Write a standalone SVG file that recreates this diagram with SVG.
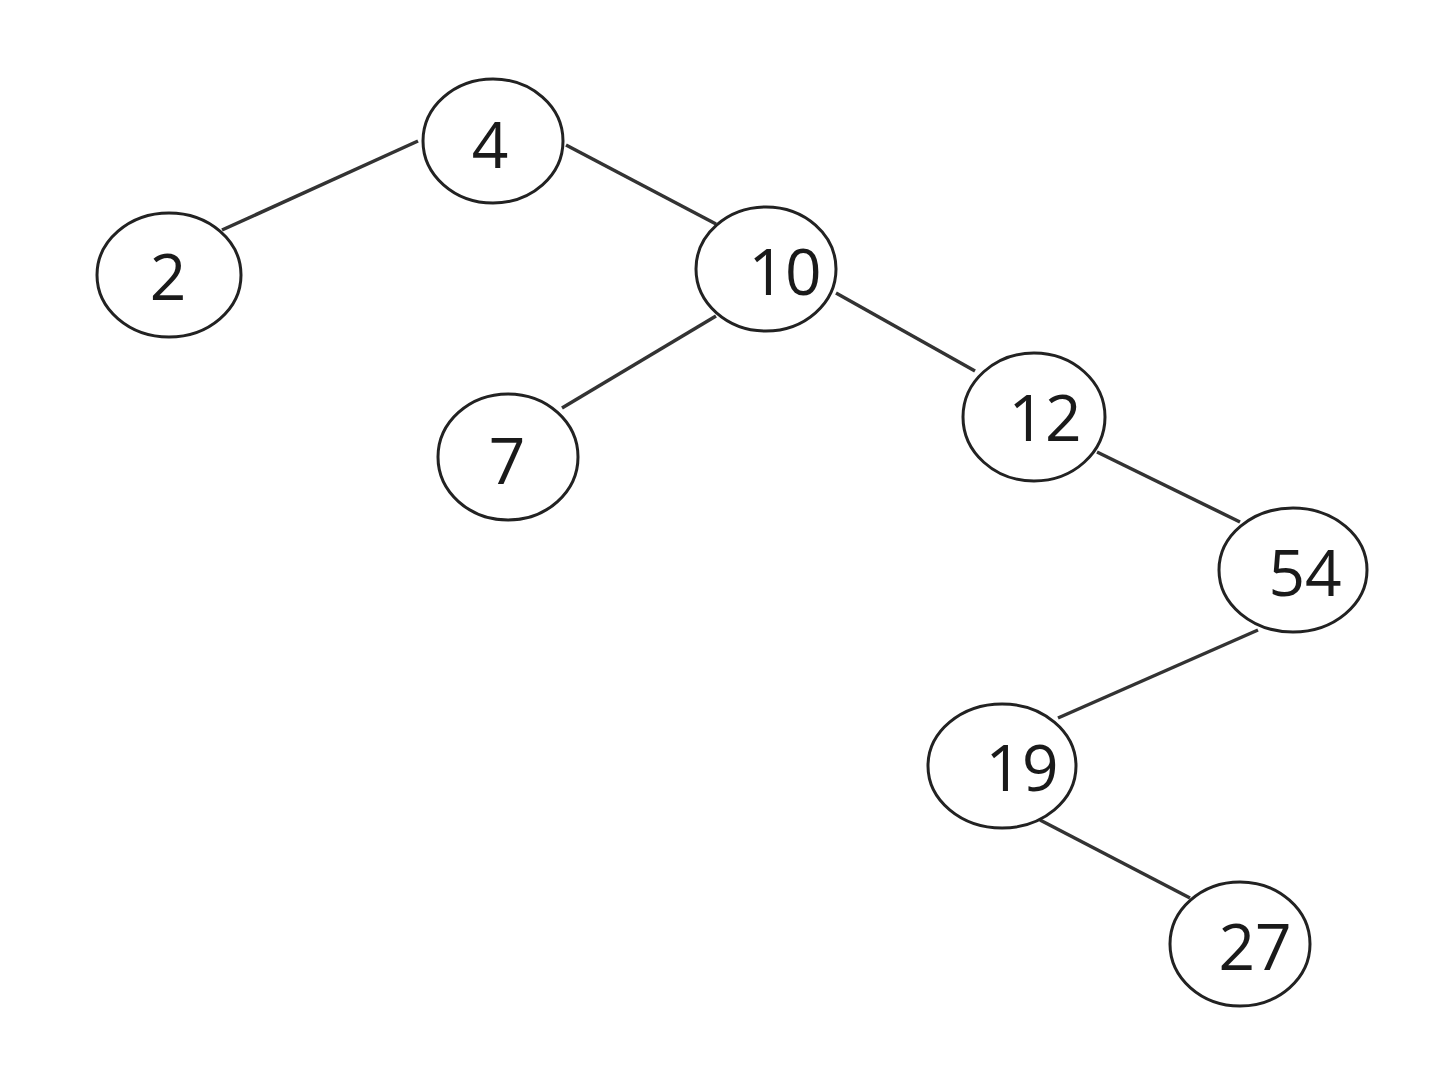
<svg xmlns="http://www.w3.org/2000/svg" width="1440" height="1074" viewBox="0 0 1440 1074">
<style>
.n{fill:#fff;stroke:#222;stroke-width:3}
.e{stroke:#333;stroke-width:3.5;fill:none}
text{font-family:"Open Sans","Liberation Sans",sans-serif;font-size:64px;fill:#1a1a1a;text-anchor:middle}
</style>
<rect width="1440" height="1074" fill="#fff"/>
<g id="edges">
<line class="e" x1="418" y1="141" x2="222" y2="230"/>
<line class="e" x1="566" y1="145" x2="716" y2="224"/>
<line class="e" x1="716" y1="316" x2="562" y2="408"/>
<line class="e" x1="836" y1="293" x2="975" y2="371"/>
<line class="e" x1="1097" y1="452" x2="1240" y2="522"/>
<line class="e" x1="1258" y1="630" x2="1058" y2="718"/>
<line class="e" x1="1040" y1="820" x2="1190" y2="898"/>
</g>
<g id="n4"><ellipse class="n" cx="493" cy="141" rx="70" ry="62"/><text x="490" y="168">4</text></g>
<g id="n2"><ellipse class="n" cx="169" cy="275" rx="72" ry="62"/><text x="168" y="300">2</text></g>
<g id="n10"><ellipse class="n" cx="766" cy="269" rx="70" ry="62"/><text x="785" y="295">10</text></g>
<g id="n7"><ellipse class="n" cx="508" cy="457" rx="70" ry="63"/><text x="507" y="484">7</text></g>
<g id="n12"><ellipse class="n" cx="1034" cy="417" rx="71" ry="64"/><text x="1045" y="441">12</text></g>
<g id="n54"><ellipse class="n" cx="1293" cy="570" rx="74" ry="62"/><text x="1305" y="596">54</text></g>
<g id="n19"><ellipse class="n" cx="1002" cy="766" rx="74" ry="62"/><text x="1022" y="791">19</text></g>
<g id="n27"><ellipse class="n" cx="1240" cy="944" rx="70" ry="62"/><text x="1255" y="970">27</text></g>
</svg>
